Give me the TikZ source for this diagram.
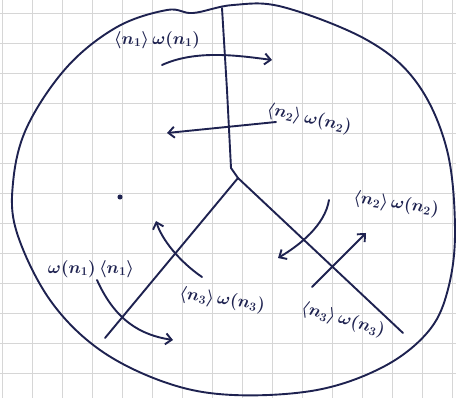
\documentclass[tikz,border=0pt]{standalone}
\usetikzlibrary{arrows.meta}
\definecolor{ink}{HTML}{1E2250}
\definecolor{gridc}{HTML}{D6D6D6}
\begin{document}
\begin{tikzpicture}[x=1pt,y=-1pt,
  inkline/.style={draw=ink,line width=1.9pt,line cap=round,line join=round},
  arr/.style={inkline,-{Straight Barb[length=6pt,width=11pt,line width=1.9pt]}},
  lbl/.style={text=ink,font=\fontsize{17}{20}\selectfont\boldmath,inner sep=0pt}]
\fill[white] (0,0) rectangle (456,398);
\useasboundingbox (0,0) rectangle (456,398);
% grid paper
\foreach \x in {2,32,...,452} \draw[gridc,line width=0.8pt] (\x,0) -- (\x,398);
\foreach \y in {13,43,...,398} \draw[gridc,line width=0.8pt] (0,\y) -- (456,\y);
% outer closed curve
\draw[inkline] plot[smooth cycle,tension=0.6] coordinates {
  (167,10) (193,13) (233,5) (283,7) (367,40) (417,83) (447,150) (455,233)
  (447,293) (427,333) (383,367) (317,390) (233,395) (167,383) (100,350)
  (50,300) (17,233) (13,183) (27,127) (67,67) (117,27)};
% Y-shaped lines
\coordinate (top) at (222,8);
\coordinate (j) at (238,178);
\coordinate (lb) at (105,338);
\coordinate (rb) at (403,333);
\draw[inkline] (top) -- (227,90) -- (231,168) -- (j);
\draw[inkline] (j) -- (lb);
\draw[inkline] (j) -- (rb);
% arrows
\coordinate (a1s) at (162,65);  \coordinate (a1e) at (272,60);
\coordinate (a2s) at (276,122); \coordinate (a2e) at (167,133);
\coordinate (a3s) at (97,280);  \coordinate (a3e) at (173,340);
\coordinate (a4s) at (202,277); \coordinate (a4e) at (156,221);
\coordinate (a5s) at (329,200); \coordinate (a5e) at (278,258);
\coordinate (a6s) at (312,287); \coordinate (a6e) at (366,233);
\draw[arr] (a1s) .. controls (195,50) and (235,55) .. (a1e);
\draw[arr] (a2s) -- (a2e);
\draw[arr] (a3s) .. controls (115,320) and (140,335) .. (a3e);
\draw[arr] (a4s) .. controls (180,262) and (162,240) .. (a4e);
\draw[arr] (a5s) .. controls (325,225) and (300,245) .. (a5e);
\draw[arr] (a6s) -- (a6e);
% labels
\node[lbl] (l1) at (157,40) {$\langle n_1\rangle\,\omega(n_1)$};
\node[lbl,rotate=-12] (l2) at (309,119) {$\langle n_2\rangle\,\omega(n_2)$};
\node[lbl,rotate=-8] (l3) at (396,204) {$\langle n_2\rangle\,\omega(n_2)$};
\node[lbl] (l4) at (91,269) {$\omega(n_1)\,\langle n_1\rangle$};
\node[lbl,rotate=-8] (l5) at (222,300) {$\langle n_3\rangle\,\omega(n_3)$};
\node[lbl,rotate=-16] (l6) at (343,320) {$\langle n_3\rangle\,\omega(n_3)$};
% stray dot
\node[circle,fill=ink,inner sep=1.8pt] (dot) at (120,197) {};
\end{tikzpicture}
\end{document}
